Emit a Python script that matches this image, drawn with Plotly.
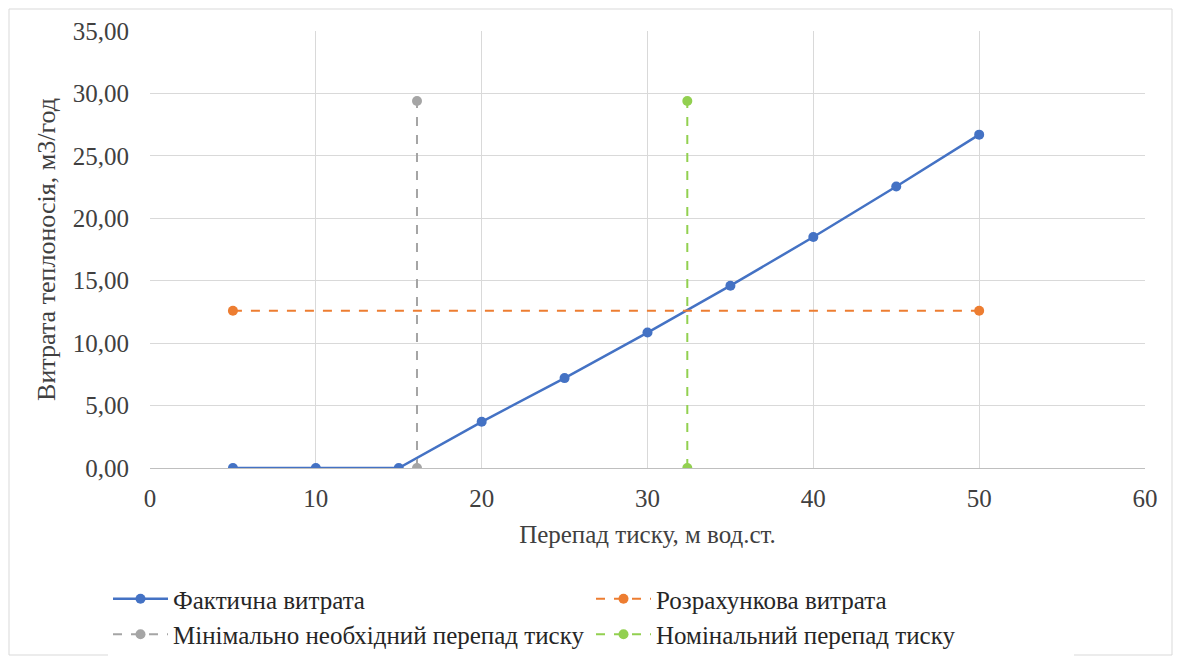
import plotly.graph_objects as go

# Фактична витрата
fact_x = [5, 10, 15, 20, 25, 30, 35, 40, 45, 50]
fact_y = [0.0, 0.0, 0.0, 3.7, 7.2, 10.85, 14.6, 18.5, 22.55, 26.7]

# Розрахункова витрата
calc_x = [5, 50]
calc_y = [12.6, 12.6]

# Мінімально необхідний перепад тиску
min_x = [16.1, 16.1]
min_y = [0.0, 29.4]

# Номінальний перепад тиску
nom_x = [32.4, 32.4]
nom_y = [0.0, 29.4]

FONT = "Liberation Serif"
TXT = "#404040"
FS = 25

fig = go.Figure()

fig.add_trace(go.Scatter(
    x=fact_x, y=fact_y, name="Фактична витрата",
    mode="lines+markers",
    line=dict(color="#4472C4", width=2.5),
    marker=dict(color="#4472C4", size=10),
))
fig.add_trace(go.Scatter(
    x=calc_x, y=calc_y, name="Розрахункова витрата",
    mode="lines+markers",
    line=dict(color="#ED7D31", width=2, dash="dash"),
    marker=dict(color="#ED7D31", size=10),
))
fig.add_trace(go.Scatter(
    x=min_x, y=min_y, name="Мінімально необхідний перепад тиску",
    mode="lines+markers",
    line=dict(color="#A5A5A5", width=2, dash="dash"),
    marker=dict(color="#A5A5A5", size=10),
))
fig.add_trace(go.Scatter(
    x=nom_x, y=nom_y, name="Номінальний перепад тиску",
    mode="lines+markers",
    line=dict(color="#92D050", width=2, dash="dash"),
    marker=dict(color="#92D050", size=10),
))

# page has an 8px body margin, so figure is offset by 8px
W, H = 1165, 648
L, R, T, B = 142, 28, 23, 188
pw, ph = W - L - R, H - T - B

fig.update_layout(
    width=W, height=H,
    margin=dict(l=L, r=R, t=T, b=B, autoexpand=False),
    paper_bgcolor="white", plot_bgcolor="white",
    separators=", ",
    font=dict(family=FONT, size=FS, color=TXT),
    xaxis=dict(
        range=[0, 60], dtick=10, tick0=0,
        showgrid=True, gridcolor="#D9D9D9", gridwidth=1,
        zeroline=False, showline=True, linecolor="#BFBFBF", linewidth=1,
        ticks="", ticklabelstandoff=8, automargin=False,
        tickfont=dict(family=FONT, size=FS, color=TXT),
        title=dict(text="Перепад тиску, м вод.ст.", font=dict(family=FONT, size=FS, color=TXT), standoff=14),
    ),
    yaxis=dict(
        range=[0, 35], dtick=5, tick0=0, tickformat=".2f",
        showgrid=True, gridcolor="#D9D9D9", gridwidth=1,
        zeroline=False, showline=False,
        ticks="", ticklabelstandoff=20, automargin=False,
        tickfont=dict(family=FONT, size=FS, color=TXT),
        title=dict(text="Витрата теплоносія, м3/год", font=dict(family=FONT, size=26, color=TXT), standoff=9),
    ),
    legend=dict(
        orientation="h", x=-42 / pw, y=-108 / ph, xanchor="left", yanchor="top",
        entrywidth=413, entrywidthmode="pixels",
        font=dict(family=FONT, size=FS, color="#262626"),
        itemwidth=55,
    ),
    showlegend=True,
)

# chart area border
fig.add_shape(type="rect", xref="paper", yref="paper",
              x0=-(L - 1) / pw, x1=1 + (R - 1) / pw,
              y0=-(B - 1) / ph, y1=1 + (T - 1) / ph,
              line=dict(color="#D9D9D9", width=1), layer="below")

fig.write_html("out.html")
